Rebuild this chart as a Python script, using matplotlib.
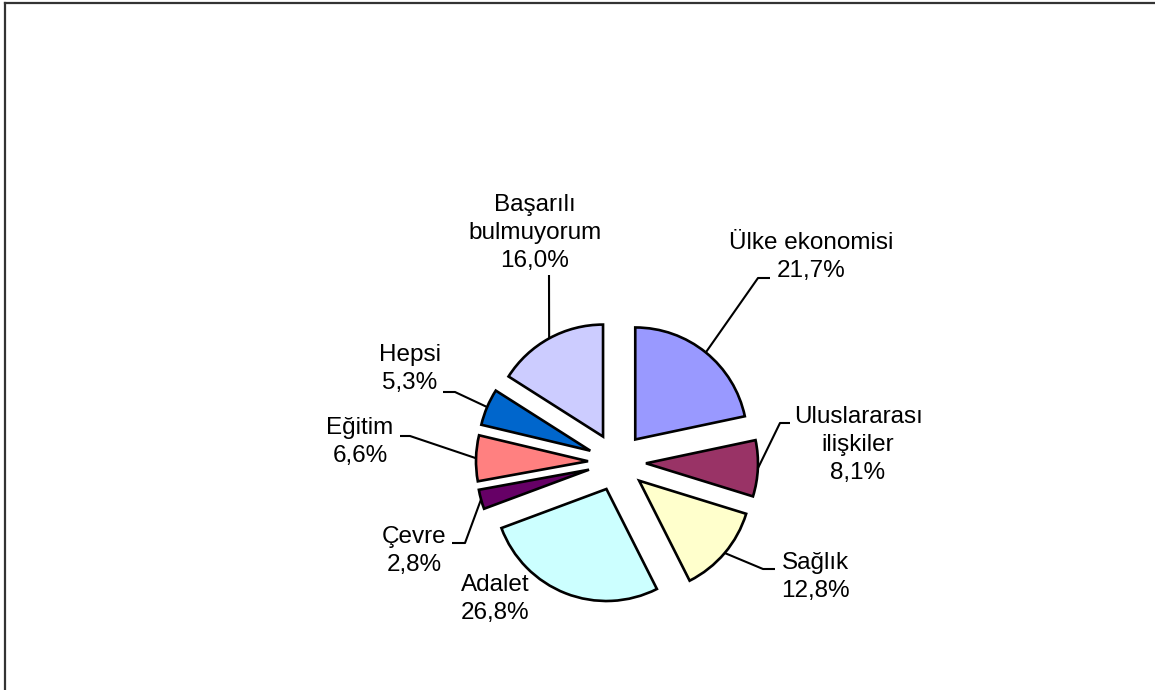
import math
import matplotlib.pyplot as plt
from matplotlib.lines import Line2D

plt.rcParams['font.family'] = ['Liberation Sans', 'DejaVu Sans']

labels = ['Ülke ekonomisi', 'Uluslararası\nilişkiler', 'Sağlık', 'Adalet',
          'Çevre', 'Eğitim', 'Hepsi', 'Başarılı\nbulmuyorum']
shares = [21.7, 8.1, 12.8, 26.8, 2.8, 6.6, 5.3, 16.0]
colors = ['#9999FF', '#993366', '#FFFFCC', '#CCFFFF',
          '#660066', '#FF8080', '#0066CC', '#CCCCFF']

# canvas in pixels, pie centre and radius
W, H = 1155, 690
CX, CY, R = 617, 462, 112
GAP = 29

# label block centres and leader elbows/tails (pixels)
label_xy = [(811, 257), (858, 445), (815, 577), (495, 599),
            (414, 551), (360, 442), (410, 369), (535, 233)]
leader = [((758, 278), (770, 278)),
          ((780, 423), (790, 423)),
          ((763, 569), (775, 569)),
          None,
          ((465, 543), (452, 543)),
          ((410, 436), (400, 436)),
          ((455, 392), (443, 392)),
          ((549, 275), (549, 275))]


def px(x, y):
    return (x - CX) / R, (CY - y) / R


fig = plt.figure(figsize=(W / 100, H / 100), dpi=100)
ax = fig.add_axes([0, 0, 1, 1])
wedges, _ = ax.pie(shares, colors=colors, startangle=90, counterclock=False,
                   explode=[GAP / R] * len(shares), normalize=True,
                   wedgeprops=dict(edgecolor='black', linewidth=1.9))
ax.set_xlim(-CX / R, (W - CX) / R)
ax.set_ylim(-(H - CY) / R, CY / R)
ax.set_aspect('auto')
ax.axis('off')

for w, lab, val, pos, ld in zip(wedges, labels, shares, label_xy, leader):
    tx, ty = px(*pos)
    ax.text(tx, ty, f"{lab}\n{val:.1f}%".replace('.', ','), ha='center',
            va='center', fontsize=17.5, linespacing=1.37)
    if ld is None:
        continue
    # leader starts at the middle of the wedge's outer arc
    mid = math.radians((w.theta1 + w.theta2) / 2)
    ax_, ay_ = w.center[0] + w.r * math.cos(mid), w.center[1] + w.r * math.sin(mid)
    ex, ey = px(*ld[0])
    sx, sy = px(*ld[1])
    ax.plot([ax_, ex, sx], [ay_, ey, sy], color='black', lw=1.5,
            solid_capstyle='butt', zorder=3)

# outer frame (top and left edges)
fig.add_artist(Line2D([5 / W, 1], [1 - 3 / H, 1 - 3 / H], color='#333333', lw=1.6))
fig.add_artist(Line2D([5 / W, 5 / W], [0, 1 - 3 / H], color='#333333', lw=1.6))

fig.savefig('out.png', dpi=100)
